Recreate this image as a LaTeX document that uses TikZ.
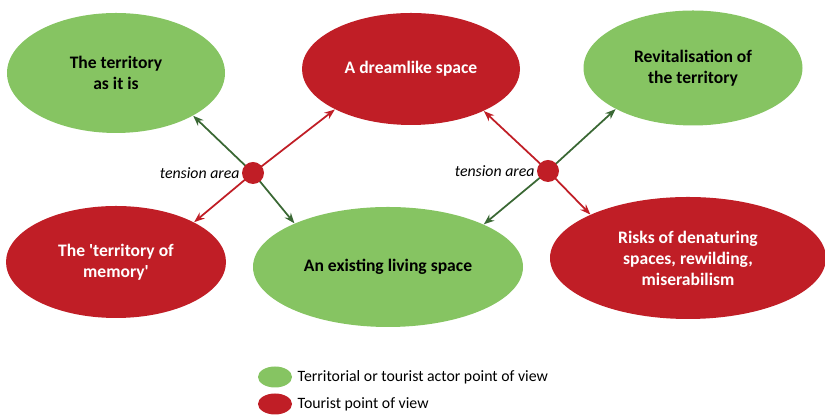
\documentclass[tikz,border=0pt]{standalone}
\usepackage{fontspec}
\setmainfont{Carlito}
\usetikzlibrary{shapes.geometric,arrows.meta,positioning}
\definecolor{lgreen}{RGB}{134,196,98}
\definecolor{dred}{RGB}{192,30,38}
\definecolor{dgreen}{RGB}{58,104,52}
\tikzset{
  bubble/.style={ellipse, inner sep=0pt, align=center, font=\fontsize{10}{12}\selectfont\bfseries},
  greenell/.style={bubble, fill=lgreen, text=black},
  redell/.style={bubble, fill=dred, text=white},
  tdot/.style={circle, fill=dred, minimum size=0.44cm, inner sep=0pt},
  garrow/.style={draw=dgreen, line width=1pt, -{Stealth[length=6pt,width=4.5pt]}},
  rarrow/.style={draw=dred, line width=1pt, -{Stealth[length=6pt,width=4.5pt]}},
  legtext/.style={font=\fontsize{9}{11}\selectfont, inner sep=0pt}
}
\begin{document}
\begin{tikzpicture}
    \useasboundingbox (0, 0) rectangle (16.5, 8.38);
    \node[greenell, minimum width=4.36cm, minimum height=2.4cm] (terr) at (2.32, 6.92) {The territory\\as it is};
    \node[redell, minimum width=4.36cm, minimum height=2.24cm] (dream) at (8.22, 7.0) {A dreamlike space};
    \node[greenell, minimum width=4.38cm, minimum height=2.3cm] (revit) at (13.86, 7.02) {Revitalisation of\\the territory};
    \node[redell, minimum width=4.4cm, minimum height=2.24cm] (memory) at (2.32, 3.14) {The \textquotesingle territory of\\memory\textquotesingle};
    \node[greenell, minimum width=5.4cm, minimum height=2.4cm] (living) at (7.76, 3.04) {An existing living space};
    \node[redell, minimum width=5.52cm, minimum height=2.44cm] (risks) at (13.76, 3.22) {Risks of denaturing\\spaces, rewilding,\\miserabilism};

    \coordinate (c1) at (5.06, 4.92);
    \coordinate (c2) at (10.96, 4.96);
    \draw[garrow] (c1) -- (terr.-29);
    \draw[garrow] (c1) -- (living.155);
    \draw[rarrow] (c1) -- (dream.208);
    \draw[rarrow] (c1) -- (memory.27);
    \draw[rarrow] (c2) -- (dream.-30);
    \draw[rarrow] (c2) -- (risks.156);
    \draw[garrow] (c2) -- (revit.208);
    \draw[garrow] (c2) -- (living.24);
    \node[tdot] (t1) at (c1) {};
    \node[tdot] (t2) at (c2) {};
    \node[legtext, left=1pt of t1] (lab1) {\itshape tension area};
    \node[legtext, left=1pt of t2] (lab2) {\itshape tension area};

    \node[ellipse, fill=lgreen, minimum width=0.68cm, minimum height=0.42cm, inner sep=0pt] (legg) at (5.5, 0.84) {};
    \node[ellipse, fill=dred, minimum width=0.68cm, minimum height=0.42cm, inner sep=0pt] (legr) at (5.5, 0.3) {};
    \node[legtext, right=0.1cm of legg] (legg text) {Territorial or tourist actor point of view};
    \node[legtext, right=0.1cm of legr] (legr text) {Tourist point of view};
  \end{tikzpicture}
\end{document}
